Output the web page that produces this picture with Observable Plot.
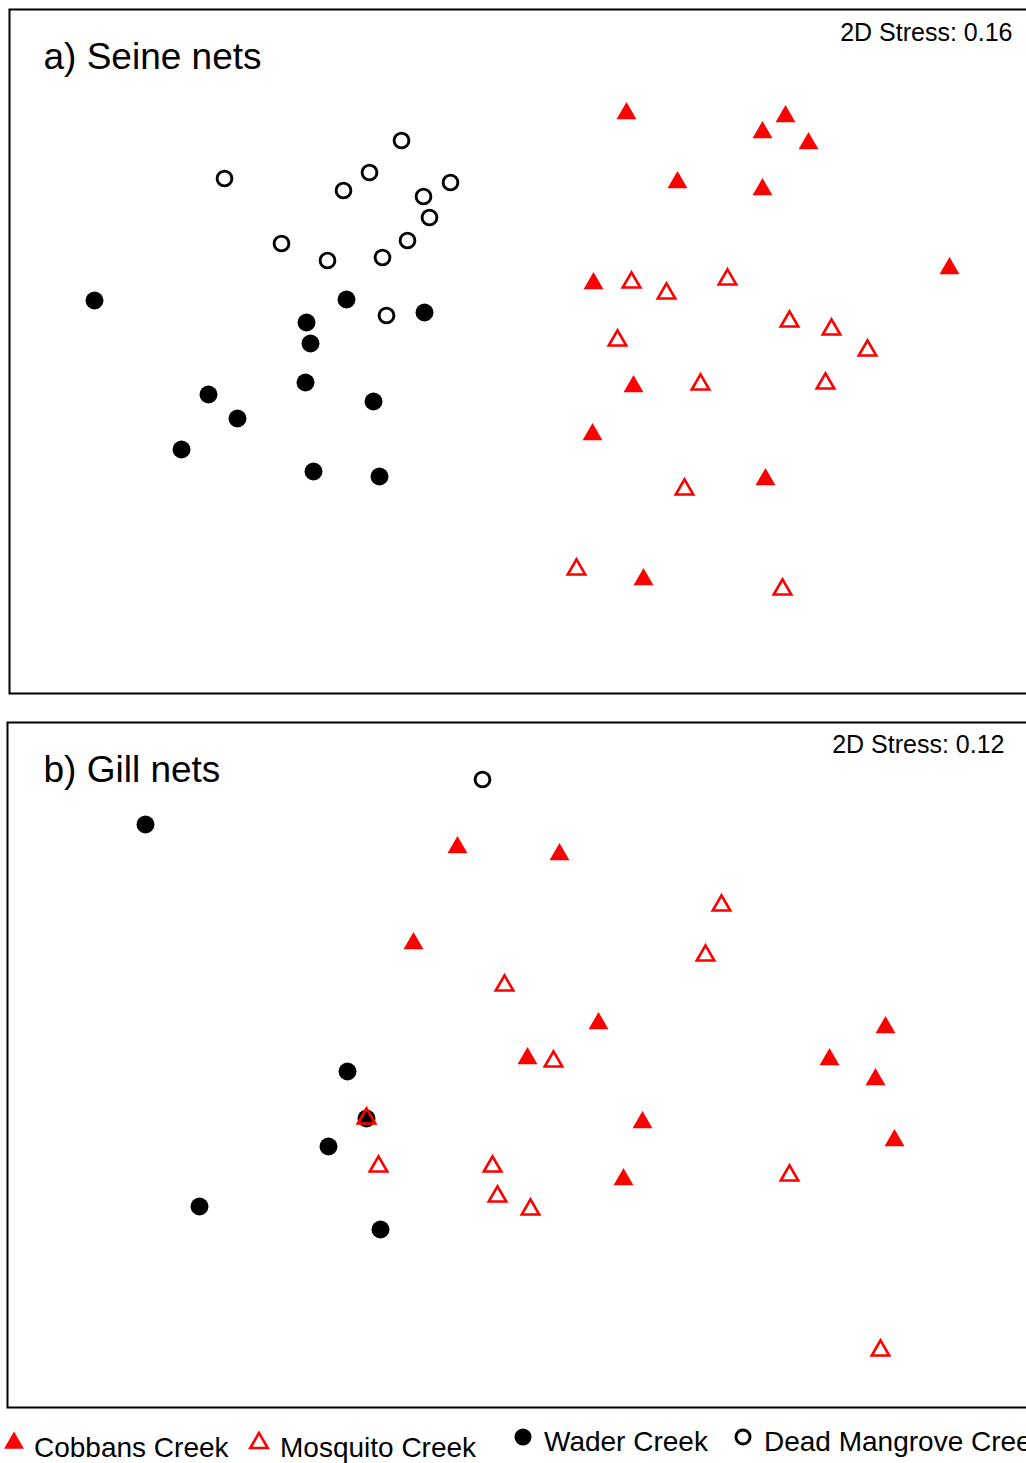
<!DOCTYPE html>
<html><head><meta charset="utf-8">
<script src="https://cdn.jsdelivr.net/npm/d3@7"></script>
<script src="https://cdn.jsdelivr.net/npm/@observablehq/plot@0.6"></script>
<style>
html,body{margin:0;padding:0;background:#fff;overflow:hidden;width:1026px;height:1463px;}
#root{position:relative;width:1026px;height:1463px;overflow:hidden;font-family:"Liberation Sans",Arial,sans-serif;}
.panel{position:absolute;width:1045px;}
.panel svg{max-width:none !important;}
</style></head><body><div id="root"></div>
<script>
// Site names (legend order)
const sites = ["Cobbans Creek", "Mosquito Creek", "Wader Creek", "Dead Mangrove Creek"];

// a) Seine nets — NMDS coordinates (arbitrary units)
const seineCobbans = [[617,580],[776,577],[753,561],[799,550],[668,511],[753,504],[940,425],[584,410],[624,307],[583,259],[756,214],[634,114]];
const seineMosquito = [[622,411],[657,400],[718,414],[780,372],[822,364],[858,343],[608,353],[691,309],[816,310],[675,204],[567,124],[773,104]];
const seineWader = [[85,393],[337,394],[297,371],[415,381],[301,350],[296,311],[199,299],[364,292],[228,275],[172,244],[304,222],[370,217]];
const seineDead = [[392,553],[215,515],[360,521],[334,503],[414,497],[441,511],[420,476],[272,450],[398,453],[318,433],[373,436],[377,378]];

// b) Gill nets
const gillCobbans = [[450,560],[552,553],[406,464],[591,384],[520,349],[878,380],[822,348],[868,328],[635,285],[887,267],[616,228],[359,289]];
const gillMosquito = [[714,502],[698,452],[497,422],[546,346],[371,241],[485,241],[490,211],[523,198],[782,232],[873,57],[359,289]];
const gillWader = [[138,583],[340,336],[359,289],[321,261],[192,201],[373,178]];
const gillDead = [[475,628]];

const titles = ["a) Seine nets", "b) Gill nets"];
const stresses = ["2D Stress: 0.16", "2D Stress: 0.12"];

const styles = {
  "Cobbans Creek": {symbol: "triangle", r: 7.4, fill: "#ff0000", stroke: "none", strokeWidth: 0},
  "Mosquito Creek": {symbol: "triangle", r: 6.5, fill: "none", stroke: "#ff0000", strokeWidth: 2.6},
  "Wader Creek": {symbol: "circle", r: 9, fill: "#000", stroke: "none", strokeWidth: 0},
  "Dead Mangrove Creek": {symbol: "circle", r: 7.4, fill: "none", stroke: "#000", strokeWidth: 2.9}
};

const root = document.getElementById("root");
const font = '"Liberation Sans", Arial, sans-serif';

function panel(cfg) {
  const series = [
    ["Cobbans Creek", cfg.cob], ["Wader Creek", cfg.wad],
    ["Dead Mangrove Creek", cfg.dead], ["Mosquito Creek", cfg.mos]
  ];
  const marks = [Plot.frame({stroke: "#000", strokeWidth: 2})];
  for (const [name, pts] of series) {
    const s = styles[name];
    marks.push(Plot.dot(pts, {x: d => d[0], y: d => d[1], symbol: s.symbol, r: s.r,
      fill: s.fill, stroke: s.stroke, strokeWidth: s.strokeWidth, strokeLinejoin: "miter"}));
  }
  marks.push(Plot.text([cfg.title], {frameAnchor: "top-left", dx: cfg.tdx, dy: cfg.tdy,
    textAnchor: "start", lineAnchor: "top", fontSize: 37, fill: "#000"}));
  marks.push(Plot.text([cfg.stress], {frameAnchor: "top-left", dx: cfg.sdx, dy: cfg.sdy,
    textAnchor: "end", lineAnchor: "top", fontSize: 25, fill: "#000"}));
  const p = Plot.plot({
    width: 1045, height: cfg.h + 4,
    marginTop: 2, marginLeft: 2, marginRight: 2, marginBottom: 2,
    x: {domain: [0, 1041], axis: null},
    y: {domain: [0, cfg.h], axis: null},
    style: {fontFamily: font, background: "transparent", overflow: "visible"},
    marks
  });
  const div = document.createElement("div");
  div.className = "panel";
  div.style.left = cfg.left + "px";
  div.style.top = cfg.top + "px";
  div.appendChild(p);
  root.appendChild(div);
}

panel({left: 7, top: 7, h: 684, cob: seineCobbans, mos: seineMosquito, wad: seineWader, dead: seineDead,
  title: titles[0], stress: stresses[0], tdx: 34, tdy: 33, sdx: 1003, sdy: 14});
panel({left: 5, top: 720, h: 685, cob: gillCobbans, mos: gillMosquito, wad: gillWader, dead: gillDead,
  title: titles[1], stress: stresses[1], tdx: 36, tdy: 33, sdx: 997, sdy: 13});

// Legend
const legendPos = [
  {sx: 14, sy: 43, tx: 34, ty: 57, sizeScale: 1},
  {sx: 259, sy: 43, tx: 280, ty: 57, sizeScale: 1},
  {sx: 523, sy: 37, tx: 544, ty: 51, sizeScale: 0.95},
  {sx: 743, sy: 37, tx: 764, ty: 51, sizeScale: 0.95}
];
const leg = d3.create("svg").attr("width", 1026).attr("height", 63)
  .style("position", "absolute").style("left", "0px").style("top", "1400px");
sites.forEach((name, i) => {
  const s = styles[name], pos = legendPos[i];
  const r = s.r * pos.sizeScale;
  const sym = d3.symbol(s.symbol === "triangle" ? d3.symbolTriangle : d3.symbolCircle, r * r * Math.PI);
  leg.append("path").attr("d", sym()).attr("transform", `translate(${pos.sx},${pos.sy})`)
    .attr("fill", s.fill).attr("stroke", s.stroke).attr("stroke-width", s.strokeWidth);
  leg.append("text").attr("x", pos.tx).attr("y", pos.ty).attr("font-family", font)
    .attr("font-size", 28).attr("fill", "#000").text(name);
});
root.appendChild(leg.node());
</script>
</body></html>
